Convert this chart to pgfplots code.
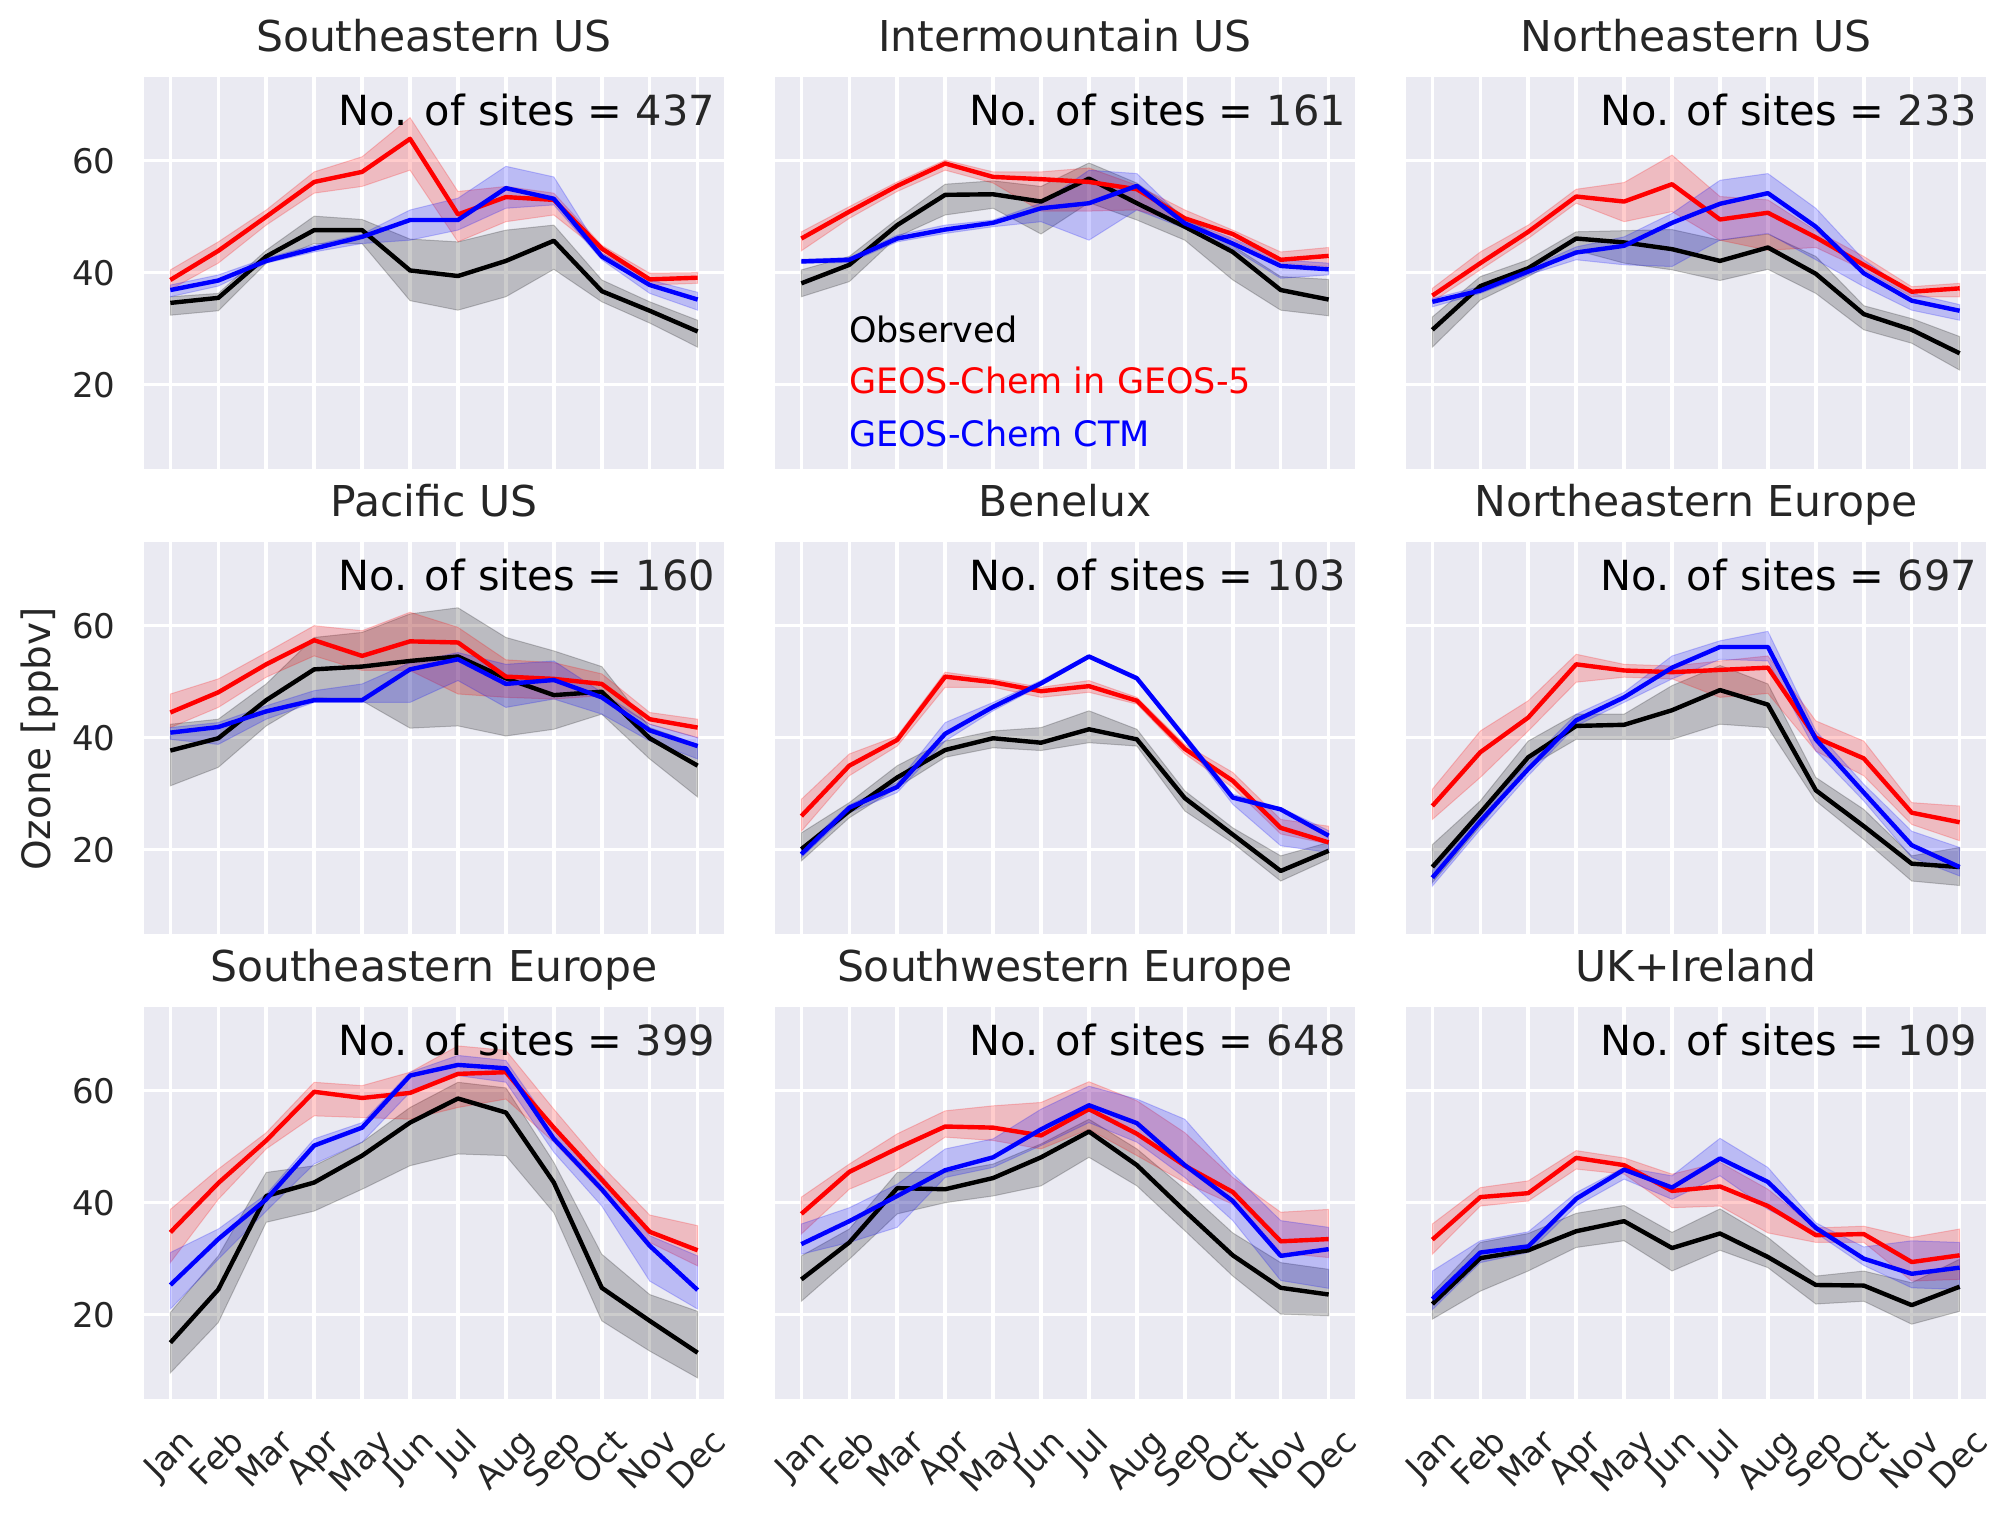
\documentclass[border=0pt]{standalone}
\usepackage{fontspec}
\setmainfont{DejaVu Sans}
\usepackage{graphicx}
\usepackage{pgfplots}
\usepackage{pgfplotstable}
\pgfplotsset{compat=1.18}
\usepgfplotslibrary{fillbetween}
\definecolor{sbbg}{HTML}{EAEAF2}
\definecolor{sbtext}{HTML}{262626}

% columns: month, observed (mean, low, high), GEOS-Chem in GEOS-5 (mean, low, high), GEOS-Chem CTM (mean, low, high)
\pgfplotstableread{
m o olo ohi g glo ghi c clo chi
0 34.6 32.4 35.7 38.7 37.0 40.5 36.9 35.7 37.8
1 35.5 33.2 36.3 43.9 41.7 45.5 38.6 37.6 39.6
2 42.9 41.7 44.0 50.0 48.5 51.2 42.1 41.7 42.6
3 47.6 45.2 50.1 56.2 54.2 58.0 44.3 43.7 44.9
4 47.6 45.2 49.5 58.0 55.4 60.7 46.4 45.2 46.9
5 40.4 35.0 46.0 63.9 58.3 67.7 49.4 45.8 51.2
6 39.4 33.3 45.5 50.4 45.5 54.5 49.4 47.6 53.3
7 42.1 35.7 47.6 53.5 49.1 55.4 55.1 51.5 59.0
8 45.7 40.6 48.5 53.0 50.3 54.2 53.2 52.1 57.1
9 36.7 34.8 38.7 44.3 43.5 44.9 42.9 42.3 43.5
10 33.2 31.0 34.8 38.8 37.8 39.9 37.8 36.3 38.7
11 29.5 26.7 31.5 39.1 38.1 40.0 35.2 33.3 36.5
}\tSEUS
\pgfplotstableread{
m o olo ohi g glo ghi c clo chi
0 38.1 35.7 40.5 46.1 43.9 47.3 42.0 41.7 42.4
1 41.4 38.4 42.9 50.9 49.7 51.8 42.3 41.8 42.7
2 48.5 46.4 49.6 55.5 54.5 56.2 46.1 45.5 46.7
3 53.9 50.3 55.8 59.5 58.3 60.1 47.7 47.0 48.5
4 54.0 51.5 56.4 57.1 56.0 58.0 48.9 48.2 49.4
5 52.7 46.9 55.4 56.7 51.0 58.0 51.5 49.1 52.4
6 56.8 52.5 59.6 56.2 51.0 58.7 52.4 45.8 58.3
7 52.4 49.4 56.0 54.9 51.2 55.6 55.5 51.2 57.7
8 48.2 45.8 50.0 49.7 48.8 51.2 48.8 47.9 49.4
9 43.7 38.7 44.8 46.9 45.8 47.6 45.2 44.3 46.1
10 36.9 33.3 39.3 42.3 41.7 43.7 41.2 39.0 42.3
11 35.2 32.3 38.8 43.0 41.1 44.5 40.6 39.6 41.7
}\tIMUS
\pgfplotstableread{
m o olo ohi g glo ghi c clo chi
0 29.8 26.7 32.1 35.9 34.8 37.2 34.8 33.9 35.4
1 37.6 35.1 39.3 41.7 40.5 43.7 36.8 36.3 37.5
2 40.8 39.3 42.3 47.3 46.1 48.5 40.2 39.6 40.8
3 46.1 44.0 47.3 53.6 52.4 54.9 43.6 42.3 44.6
4 45.4 41.7 47.5 52.7 49.1 56.1 44.8 41.4 46.4
5 44.2 40.5 47.7 55.8 50.9 61.0 48.9 41.1 50.6
6 42.1 38.6 45.8 49.5 45.8 53.6 52.3 45.8 56.5
7 44.5 40.6 46.9 50.7 44.0 53.0 54.2 47.0 57.7
8 39.8 36.3 42.9 46.3 44.5 47.5 48.2 42.3 51.5
9 32.6 29.8 34.1 41.4 40.5 42.9 39.9 37.5 42.3
10 29.8 27.4 31.8 36.6 35.7 37.5 35.0 33.3 36.3
11 25.6 22.6 28.6 37.2 35.7 38.1 33.2 31.5 34.3
}\tNEUS
\pgfplotstableread{
m o olo ohi g glo ghi c clo chi
0 37.7 31.4 42.4 44.5 41.8 47.8 40.9 39.7 41.8
1 39.9 34.7 43.3 48.1 45.4 50.5 41.9 38.8 42.7
2 46.7 42.1 49.6 53.1 50.8 55.2 44.7 43.3 45.7
3 52.2 47.2 57.9 57.4 54.6 60.0 46.7 46.3 48.4
4 52.7 46.6 58.8 54.6 52.0 59.1 46.7 46.3 49.6
5 53.7 41.7 62.1 57.2 52.0 62.4 52.2 46.3 53.4
6 54.5 42.1 63.2 57.0 47.8 59.7 54.0 50.2 55.2
7 50.6 40.3 57.9 50.9 47.2 53.9 49.6 45.4 53.1
8 47.6 41.5 55.5 50.5 46.9 53.4 50.3 46.9 53.7
9 48.2 44.2 52.7 49.6 47.5 51.4 47.2 44.2 48.1
10 39.9 36.2 41.8 43.3 42.4 44.5 41.3 39.4 42.4
11 35.0 29.4 38.8 41.8 40.0 43.3 38.5 36.2 40.0
}\tPUS
\pgfplotstableread{
m o olo ohi g glo ghi c clo chi
0 20.1 18.0 23.0 26.0 23.3 29.0 19.2 18.6 20.1
1 26.9 25.7 28.4 35.0 33.2 37.1 27.5 26.6 28.0
2 32.9 31.1 35.0 39.6 38.5 40.3 31.2 30.2 32.0
3 37.8 36.5 39.4 50.9 49.0 51.7 40.7 39.4 42.7
4 39.9 38.2 41.2 49.9 49.0 50.5 45.5 44.8 46.3
5 39.1 37.7 41.8 48.3 47.2 49.0 49.7 49.3 50.2
6 41.5 39.1 44.8 49.2 48.1 50.2 54.5 54.2 54.8
7 39.7 38.5 41.5 46.6 46.0 47.2 50.6 50.2 51.0
8 29.2 26.9 30.5 38.0 37.1 38.8 40.0 39.4 40.6
9 22.7 21.2 23.9 32.3 31.1 33.8 29.3 28.1 29.9
10 16.2 14.4 18.9 23.9 22.8 25.4 27.2 20.7 27.5
11 19.8 18.3 21.3 21.3 21.0 24.2 22.5 19.5 23.4
}\tBNL
\pgfplotstableread{
m o olo ohi g glo ghi c clo chi
0 16.9 14.1 20.9 27.8 25.4 30.8 15.0 13.5 16.2
1 26.6 24.2 28.7 37.4 32.9 41.2 25.1 23.6 26.6
2 36.5 34.7 39.4 43.6 41.2 46.6 34.4 33.2 35.6
3 42.1 39.7 44.2 53.1 49.9 54.9 43.1 42.1 44.2
4 42.3 39.7 44.2 52.0 50.8 53.1 47.2 46.3 48.1
5 44.9 39.7 49.3 51.7 50.5 52.8 52.5 50.5 54.6
6 48.5 42.4 52.9 52.1 47.2 53.7 56.2 54.0 57.3
7 45.9 41.8 49.6 52.5 47.9 54.6 56.2 53.7 59.0
8 30.6 28.7 32.9 40.0 37.6 43.0 39.7 37.6 41.2
9 24.2 21.8 27.2 36.3 33.2 39.4 30.2 28.7 31.7
10 17.5 14.4 18.9 26.6 24.5 28.4 20.8 18.6 23.3
11 16.9 13.6 20.4 24.9 21.6 27.8 16.9 15.3 20.4
}\tNEEU
\pgfplotstableread{
m o olo ohi g glo ghi c clo chi
0 15.0 9.6 20.4 34.7 29.3 38.8 25.3 21.0 31.1
1 24.5 18.6 30.5 43.5 40.6 46.0 33.5 29.9 35.3
2 41.2 36.5 45.4 51.1 49.6 52.5 40.6 38.5 41.5
3 43.6 38.5 46.6 59.8 55.5 61.5 50.2 46.9 51.4
4 48.4 42.4 50.8 58.7 55.2 60.9 53.4 50.8 54.3
5 54.3 46.6 57.0 59.6 54.9 63.3 62.7 59.7 63.3
6 58.6 48.7 61.5 63.0 57.0 68.0 64.6 62.7 66.3
7 56.1 48.4 60.5 63.3 58.5 67.2 64.0 61.5 65.4
8 43.6 38.2 47.2 53.4 50.8 56.7 51.4 49.0 53.1
9 24.8 18.9 30.8 44.1 41.8 46.6 42.4 39.4 44.8
10 18.9 13.5 23.6 34.8 32.9 37.8 32.3 26.0 34.1
11 13.2 8.7 20.6 31.5 28.7 35.9 24.4 21.0 30.5
}\tSEEU
\pgfplotstableread{
m o olo ohi g glo ghi c clo chi
0 26.3 22.4 30.5 38.0 34.4 41.0 32.6 30.8 36.2
1 32.9 29.9 35.3 45.5 42.4 46.9 36.7 32.9 39.1
2 42.6 38.0 45.4 49.7 46.0 52.3 41.2 35.6 43.3
3 42.4 40.0 45.4 53.6 51.7 56.4 45.8 44.5 49.6
4 44.4 41.2 46.9 53.4 51.1 57.3 48.1 46.3 51.4
5 48.1 43.0 50.5 52.0 49.6 57.9 53.1 50.2 56.7
6 52.7 48.1 54.9 56.7 53.1 61.6 57.4 54.3 60.8
7 46.7 43.0 49.6 52.3 48.4 58.2 54.2 50.8 58.5
8 38.5 35.0 42.4 46.6 43.6 52.5 46.7 44.5 54.9
9 30.6 26.9 34.6 41.9 39.7 44.5 40.3 36.8 45.2
10 24.8 20.1 29.3 33.1 31.0 38.3 30.5 26.1 36.8
11 23.6 19.8 28.1 33.5 30.2 38.8 31.7 24.7 35.6
}\tSWEU
\pgfplotstableread{
m o olo ohi g glo ghi c clo chi
0 21.9 19.2 23.9 33.4 30.8 36.2 22.8 20.9 27.8
1 30.1 24.2 32.9 41.0 39.4 42.7 31.1 29.3 33.2
2 31.5 27.8 34.5 41.7 40.3 43.9 32.2 31.1 34.8
3 34.9 32.0 38.1 48.0 46.0 49.3 40.7 39.4 41.8
4 36.7 33.2 39.5 46.7 45.1 48.0 45.9 44.2 46.3
5 31.9 27.8 34.7 42.1 39.1 45.1 42.7 40.6 44.8
6 34.5 31.5 38.9 42.9 39.4 47.2 47.9 44.8 51.5
7 30.3 28.4 33.8 39.4 34.6 42.4 43.7 38.8 46.3
8 25.3 21.9 26.9 34.2 32.9 35.5 35.5 34.6 36.4
9 25.2 22.4 27.8 34.4 32.9 35.8 30.0 28.8 32.1
10 21.7 18.3 25.7 29.4 26.0 33.8 27.3 24.8 33.2
11 25.0 20.6 29.9 30.6 26.3 35.3 28.4 24.5 32.9
}\tUKIE

\pgfplotsset{
  panel/.style={
    scale only axis, width=290pt, height=196pt, anchor=south west,
    xmin=-0.55, xmax=11.55, ymin=5, ymax=75,
    xtick={0,...,11}, ytick={20,40,60},
    xticklabels={}, yticklabels={},
    grid=major, major grid style={white, line width=1.75pt},
    axis background/.style={fill=sbbg},
    axis line style={draw=none},
    major tick length=0pt,
    /pgf/number format/assume math mode=true,
    tick label style={font=\fontsize{17}{20}\selectfont, text=sbtext},
    xticklabel style={anchor=north, inner sep=0pt, yshift=-13.6pt},
    yticklabel style={anchor=east, inner sep=0pt, xshift=-14pt},
    every axis title shift=0pt,
    title style={font=\fontsize{21.25}{25}\selectfont, text=sbtext, anchor=base, at={(0.5,1)}, yshift=12.8pt},
  },
  leftcol/.style={yticklabels={20,40,60}},
  bottomrow/.style={xticklabels={
    \rotatebox{45}{\vphantom{lp}Jan},\rotatebox{45}{\vphantom{lp}Feb},\rotatebox{45}{\vphantom{lp}Mar},
    \rotatebox{45}{\vphantom{lp}Apr},\rotatebox{45}{\vphantom{lp}May},\rotatebox{45}{\vphantom{lp}Jun},
    \rotatebox{45}{\vphantom{lp}Jul},\rotatebox{45}{\vphantom{lp}Aug},\rotatebox{45}{\vphantom{lp}Sep},
    \rotatebox{45}{\vphantom{lp}Oct},\rotatebox{45}{\vphantom{lp}Nov},\rotatebox{45}{\vphantom{lp}Dec}}},
  band/.style={fill=#1, fill opacity=0.2, draw=#1, draw opacity=0.2, line width=0.5pt},
  series/.style={#1, line width=2.2pt, line join=round},
}
\tikzset{sites/.style={anchor=base east, inner sep=0pt, xshift=-4.3pt, yshift=-24.3pt, font=\fontsize{20.75}{24}\selectfont}}

\newcommand{\drawseries}[1]{%
  \addplot[name path=OH, draw=none, forget plot] table[x=m,y=ohi]{#1};
  \addplot[name path=OL, draw=none, forget plot] table[x=m,y=olo]{#1};
  \addplot[band=black] fill between[of=OH and OL];
  \addplot[name path=GH, draw=none, forget plot] table[x=m,y=ghi]{#1};
  \addplot[name path=GL, draw=none, forget plot] table[x=m,y=glo]{#1};
  \addplot[band=red] fill between[of=GH and GL];
  \addplot[name path=CH, draw=none, forget plot] table[x=m,y=chi]{#1};
  \addplot[name path=CL, draw=none, forget plot] table[x=m,y=clo]{#1};
  \addplot[band=blue] fill between[of=CH and CL];
  \addplot[series=black] table[x=m,y=o]{#1};
  \addplot[series=red] table[x=m,y=g]{#1};
  \addplot[series=blue] table[x=m,y=c]{#1};
}
\newcommand{\sites}[1]{\node[sites] at (rel axis cs:1,1) {No. of sites = {\color{sbtext}#1}};}

\begin{document}
\begin{tikzpicture}

% row 1
\begin{axis}[panel, leftcol, at={(72pt,522.15pt)}, title={Southeastern US}]
\drawseries{\tSEUS}
\sites{437}
\end{axis}
\begin{axis}[panel, at={(387.5pt,522.15pt)}, title={Intermountain US}]
\drawseries{\tIMUS}
\sites{161}
\node[anchor=base west, inner sep=0pt, xshift=36.8pt, yshift=-133pt, font=\fontsize{17.5}{20}\selectfont, text=black] at (rel axis cs:0,1) {Observed};
\node[anchor=base west, inner sep=0pt, xshift=36.8pt, yshift=-158.3pt, font=\fontsize{17.5}{20}\selectfont, text=red] at (rel axis cs:0,1) {GEOS-Chem in GEOS-5};
\node[anchor=base west, inner sep=0pt, xshift=36.8pt, yshift=-184.7pt, font=\fontsize{17.5}{20}\selectfont, text=blue] at (rel axis cs:0,1) {GEOS-Chem CTM};
\end{axis}
\begin{axis}[panel, at={(703pt,522.15pt)}, title={Northeastern US}]
\drawseries{\tNEUS}
\sites{233}
\end{axis}

% row 2
\begin{axis}[panel, leftcol, at={(72pt,289.65pt)}, title={Pacific US}]
\drawseries{\tPUS}
\sites{160}
\end{axis}
\begin{axis}[panel, at={(387.5pt,289.65pt)}, title={Benelux}]
\drawseries{\tBNL}
\sites{103}
\end{axis}
\begin{axis}[panel, at={(703pt,289.65pt)}, title={Northeastern Europe}]
\drawseries{\tNEEU}
\sites{697}
\end{axis}

% row 3
\begin{axis}[panel, leftcol, bottomrow, at={(72pt,57.15pt)}, title={Southeastern Europe}]
\drawseries{\tSEEU}
\sites{399}
\end{axis}
\begin{axis}[panel, bottomrow, at={(387.5pt,57.15pt)}, title={Southwestern Europe}]
\drawseries{\tSWEU}
\sites{648}
\end{axis}
\begin{axis}[panel, bottomrow, at={(703pt,57.15pt)}, title={UK+Ireland}]
\drawseries{\tUKIE}
\sites{109}
\end{axis}

\node[rotate=90, anchor=base, inner sep=0pt, font=\fontsize{19.5}{22}\selectfont, text=sbtext] at (25pt,387pt) {Ozone [ppbv]};
\pgfresetboundingbox
\useasboundingbox (0,0) rectangle (1004.5pt,756.5pt);
\end{tikzpicture}
\end{document}
